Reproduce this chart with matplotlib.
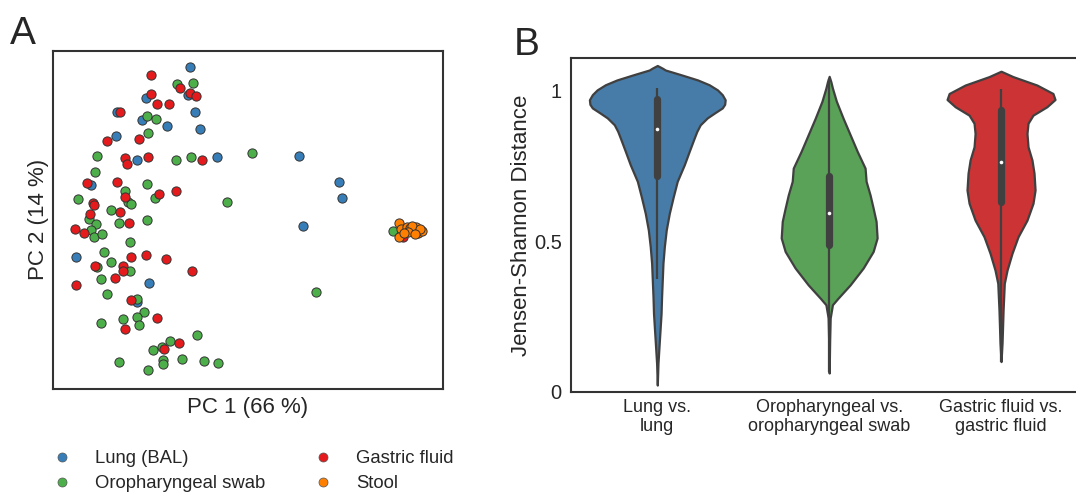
import colorsys
import matplotlib
matplotlib.use("Agg")
import matplotlib.pyplot as plt
import matplotlib.colors as mcolors
from matplotlib.lines import Line2D

plt.rcParams['font.family'] = ['Liberation Sans', 'DejaVu Sans']
TEXT = '#262626'
SPINE = '#333333'

# ---------------- Panel A: PCoA scores ----------------
group_names = ["Lung (BAL)", "Oropharyngeal swab", "Gastric fluid", "Stool"]
group_colors = ["#377eb8", "#4daf4a", "#e41a1c", "#ff7f00"]

lung_pc1 = [-0.60, -0.62, -1.04, -1.33, -0.55, -1.08, -0.83, -0.50, -1.34, -1.13,
            -0.33, -1.59, 0.49, 0.89, 0.92, 0.53, -1.74, -1.01, -1.13]
lung_pc2 = [1.63, 1.35, 1.32, 1.18, 1.18, 1.10, 1.04, 1.01, 0.94, 0.70,
            0.73, 0.45, 0.74, 0.48, 0.32, 0.04, -0.27, -0.53, -0.72]

oro_pc1 = [-0.73, -0.57, -1.03, -0.94, -1.02, -1.53, -0.74, -0.59, 0.02, -1.55,
           -1.03, -1.25, -0.95, -1.22, -1.19, -1.72, -0.23, -1.39, -1.61, -1.54,
           -1.31, -1.03, -1.59, -1.56, -1.48, -1.20, -1.46, -1.39, -1.53, -1.20,
           -1.49, -1.43, -1.13, -1.06, -1.13, -1.27, -1.49, -1.11, -0.53, -0.80,
           -0.88, -0.97, -1.31, -0.87, -0.87, -0.68, -0.46, -0.32, -1.02, 0.66,
           1.43]
oro_pc2 = [1.46, 1.47, 1.14, 1.11, 0.97, 0.74, 0.70, 0.73, 0.77, 0.58,
           0.46, 0.39, 0.32, 0.28, 0.26, 0.31, 0.28, 0.20, 0.11, 0.06,
           0.07, 0.10, 0.00, -0.07, -0.04, -0.12, -0.22, -0.32, -0.37, -0.41,
           -0.49, -0.64, -0.69, -0.82, -0.87, -0.89, -0.93, -0.95, -1.05, -1.11,
           -1.17, -1.20, -1.32, -1.30, -1.34, -1.29, -1.31, -1.33, -1.40, -0.62,
           -0.01]

gastric_pc1 = [-0.99, -0.70, -0.60, -0.54, -0.99, -0.93, -0.81, -1.30, -1.43, -1.11,
               -1.25, -1.23, -1.02, -0.48, -1.63, -1.33, -0.91, -0.74, -1.25, -1.57,
               -1.56, -1.60, -1.30, -1.21, -1.75, -1.66, -1.19, -1.04, -0.84, -1.55,
               -1.27, -1.27, -0.58, -1.35, -1.74, -1.19, -0.93, -1.25, -0.71, -0.86,
               1.53]
gastric_pc2 = [1.55, 1.42, 1.37, 1.34, 1.36, 1.26, 1.26, 1.18, 0.89, 0.91,
               0.72, 0.66, 0.73, 0.70, 0.47, 0.48, 0.36, 0.39, 0.33, 0.27,
               0.25, 0.16, 0.18, 0.07, 0.01, -0.03, -0.27, -0.25, -0.29, -0.36,
               -0.36, -0.41, -0.41, -0.48, -0.55, -0.70, -0.88, -0.99, -1.13, -1.19,
               -0.07]

stool_pc1 = [1.49, 1.51, 1.49, 1.57, 1.60, 1.63, 1.66, 1.68, 1.72, 1.62, 1.58, 1.70, 1.54, 1.65]
stool_pc2 = [0.07, 0.01, -0.07, 0.03, 0.02, 0.00, 0.03, -0.03, -0.01, 0.04, -0.02, 0.01, -0.03, -0.04]

# ---------------- Panel B: Jensen-Shannon distance violins ----------------
violin_labels = ["Lung vs.\nlung", "Oropharyngeal vs.\noropharyngeal swab",
                 "Gastric fluid vs.\ngastric fluid"]
violin_base_colors = ["#377eb8", "#4daf4a", "#e41a1c"]

# outline: distance level and half-width of the violin
lung_level = [1.084, 1.075, 1.069, 1.053, 1.036, 1.020, 1.003, 0.987, 0.970, 0.955, 0.943,
              0.927, 0.910, 0.887, 0.865, 0.843, 0.799, 0.754, 0.699, 0.648, 0.593,
              0.537, 0.482, 0.427, 0.371, 0.316, 0.260, 0.205, 0.150, 0.094, 0.022]
lung_half = [0.000, 0.030, 0.047, 0.140, 0.235, 0.302, 0.350, 0.378, 0.395, 0.392, 0.378,
             0.335, 0.291, 0.250, 0.230, 0.215, 0.186, 0.157, 0.116, 0.093, 0.070,
             0.052, 0.041, 0.033, 0.029, 0.025, 0.022, 0.016, 0.010, 0.004, 0.000]

oro_level = [1.048, 1.030, 1.009, 0.965, 0.909, 0.854, 0.799, 0.743, 0.699, 0.654,
             0.610, 0.566, 0.511, 0.466, 0.411, 0.355, 0.311, 0.289, 0.245, 0.172, 0.062]
oro_half = [0.000, 0.010, 0.019, 0.042, 0.081, 0.122, 0.163, 0.209, 0.215, 0.238,
            0.256, 0.273, 0.279, 0.256, 0.198, 0.122, 0.052, 0.019, 0.006, 0.003, 0.000]

gastric_level = [1.065, 1.047, 1.019, 0.991, 0.971, 0.947, 0.919, 0.892, 0.858, 0.814,
                 0.770, 0.726, 0.670, 0.626, 0.570, 0.515, 0.460, 0.404, 0.360, 0.271,
                 0.162, 0.100]
gastric_half = [0.000, 0.070, 0.209, 0.302, 0.314, 0.267, 0.186, 0.157, 0.151, 0.157,
                0.180, 0.192, 0.198, 0.186, 0.151, 0.099, 0.064, 0.035, 0.019, 0.012,
                0.006, 0.000]

# box statistics: q1, median, q3, whisker low, whisker high
lung_box = [0.718, 0.873, 0.972, 0.373, 1.008]
oro_box = [0.488, 0.594, 0.716, 0.065, 1.040]
gastric_box = [0.631, 0.764, 0.936, 0.100, 1.005]

violin_levels = [lung_level, oro_level, gastric_level]
violin_halfs = [lung_half, oro_half, gastric_half]
violin_boxes = [lung_box, oro_box, gastric_box]
ytick_values = [0, 0.5, 1]
ytick_labels = ["0", "0.5", "1"]


def desaturate(c, prop):
    r, g, b = mcolors.to_rgb(c)
    h, l, s = colorsys.rgb_to_hls(r, g, b)
    return colorsys.hls_to_rgb(h, l, s * prop)


fig = plt.figure(figsize=(10.76, 4.93), dpi=100)

# ---- Panel A ----
axA = fig.add_axes([0.0495, 0.2116, 0.3619, 0.6856])
series = [(lung_pc1, lung_pc2), (oro_pc1, oro_pc2), (gastric_pc1, gastric_pc2), (stool_pc1, stool_pc2)]
for (xs, ys), col, name in zip(series, group_colors, group_names):
    axA.scatter(xs, ys, s=44, c=col, edgecolors='#333333', linewidths=0.7, label=name, zorder=3)
axA.set_xlim(-1.97, 1.93)
axA.set_ylim(-1.59, 1.79)
axA.set_xticks([])
axA.set_yticks([])
for sp in axA.spines.values():
    sp.set_color(SPINE)
    sp.set_linewidth(1.5)
axA.set_xlabel("PC 1 (66 %)", fontsize=16, color=TEXT, labelpad=6)
axA.set_ylabel("PC 2 (14 %)", fontsize=16, color=TEXT, labelpad=3)

handles = [Line2D([], [], linestyle='none', marker='o', markersize=6.5,
                  markerfacecolor=c, markeredgecolor='#555555', markeredgewidth=0.5)
           for c in group_colors]
fig.legend(handles, group_names, loc='upper left', bbox_to_anchor=(0.0405, 0.106),
           ncol=2, frameon=False, fontsize=13.3, borderpad=0, handlelength=1.0,
           handletextpad=1.3, columnspacing=2.6, labelspacing=0.45, labelcolor=TEXT)

# ---- Panel B ----
axB = fig.add_axes([0.5310, 0.2055, 0.4792, 0.6763])
edge = '#404040'
for i, (lev, hw, box, base) in enumerate(zip(violin_levels, violin_halfs, violin_boxes, violin_base_colors)):
    left = [i - w for w in hw]
    right = [i + w for w in hw]
    axB.fill_betweenx(lev, left, right, facecolor=desaturate(base, 0.75),
                      edgecolor=edge, linewidth=1.6, zorder=2)
    q1, med, q3, wlo, whi = box
    axB.plot([i, i], [wlo, whi], color=edge, linewidth=1.6, zorder=3, solid_capstyle='butt')
    axB.plot([i, i], [q1, q3], color=edge, linewidth=5.2, zorder=4, solid_capstyle='round')
    axB.plot([i], [med], marker='o', markersize=2.6, color='white', markeredgewidth=0, zorder=5)

axB.set_xlim(-0.5, 2.5)
axB.set_ylim(0, 1.108)
axB.set_xticks(range(len(violin_labels)))
axB.set_xticklabels(violin_labels, fontsize=13, color=TEXT, linespacing=1.15)
axB.set_yticks(ytick_values)
axB.set_yticklabels(ytick_labels, fontsize=14.5, color=TEXT)
axB.tick_params(axis='both', length=0)
axB.tick_params(axis='y', pad=7)
axB.tick_params(axis='x', pad=5)
axB.spines['right'].set_visible(False)
for k in ['left', 'top', 'bottom']:
    axB.spines[k].set_color(SPINE)
    axB.spines[k].set_linewidth(1.5)
axB.set_ylabel("Jensen-Shannon Distance", fontsize=16, color=TEXT, labelpad=1)

fig.text(0.009, 0.968, "A", fontsize=28, color=TEXT, va='top', ha='left')
fig.text(0.477, 0.946, "B", fontsize=28, color=TEXT, va='top', ha='left')

fig.savefig("out.png", dpi=100)
